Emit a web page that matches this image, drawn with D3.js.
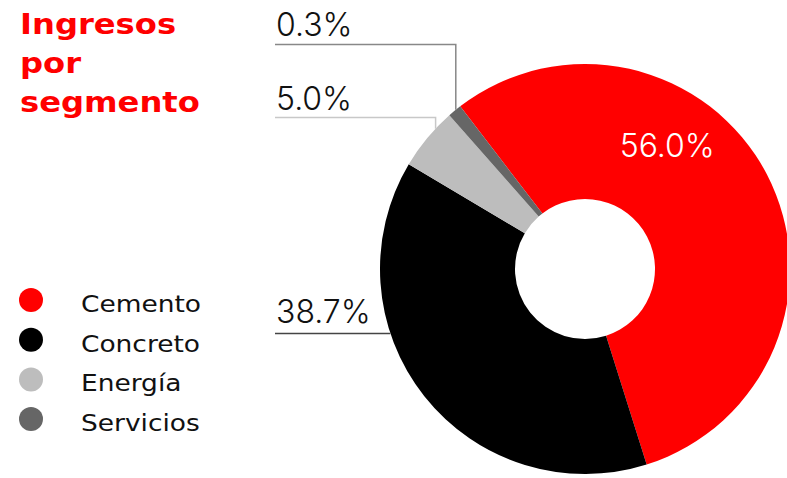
<!DOCTYPE html>
<html>
<head>
<meta charset="utf-8">
<script src="https://cdn.jsdelivr.net/npm/d3@7"></script>
<style>
  body { margin: 0; background: #fff; }
  svg { display: block; }
</style>
</head>
<body>
<div id="chart"></div>
<script>
// data
var segments = ["Cemento", "Concreto", "Energía", "Servicios"];
var shares = [56.0, 38.7, 5.0, 0.3];
var shareLabels = ["56.0%", "38.7%", "5.0%", "0.3%"];
var titleLines = ["Ingresos", "por", "segmento"];

var colors = ["#ff0000", "#000000", "#bdbdbd", "#666666"];
var lineColors = [null, "#444444", "#c8c8c8", "#888888"];

var width = 787, height = 478;
var cx = 585, cy = 269, outerR = 205, innerR = 70;
// tiny slices get a minimum visible share so they stay visible
var minShare = 1.1;

var svg = d3.select("#chart").append("svg")
    .attr("width", width)
    .attr("height", height);

// title
var title = svg.append("text")
    .attr("transform", "translate(20,0) scale(1.15,1)")
    .style("font-family", "'DejaVu Sans', sans-serif")
    .style("font-weight", "bold")
    .style("font-size", "28px")
    .style("fill", "#ff0000");

title.selectAll("tspan")
    .data(titleLines)
    .enter().append("tspan")
    .attr("x", 0)
    .attr("y", (d, i) => 34 + i * 39)
    .text(d => d);

// donut
var startA = -37.5 * Math.PI / 180;
var pie = d3.pie()
    .sort(null)
    .value(d => Math.max(d, minShare))
    .startAngle(startA)
    .endAngle(startA + 2 * Math.PI);

var arcs = pie(shares);

var arc = d3.arc()
    .innerRadius(innerR)
    .outerRadius(outerR);

var g = svg.append("g")
    .attr("transform", "translate(" + cx + "," + cy + ")");

g.selectAll("path.slice")
    .data(arcs)
    .enter().append("path")
    .attr("class", "slice")
    .attr("d", arc)
    .attr("fill", (d, i) => colors[i]);

// labels
var pctFont = "'Inter', 'Open Sans', sans-serif";
var labelX = 276;

// inside label for cemento
var inAngle = 33.5 * Math.PI / 180, inR = 149;
svg.append("text")
    .attr("x", cx + inR * Math.sin(inAngle))
    .attr("y", cy - inR * Math.cos(inAngle) + 12)
    .attr("text-anchor", "middle")
    .style("font-family", pctFont)
    .style("font-weight", 300)
    .style("font-size", "32px")
    .style("fill", "#fff")
    .text(shareLabels[0]);

// outside labels with leader lines: [slice index, text baseline, line y, where on slice]
var outside = [
    [3, 36, 44.5, 0.6],
    [2, 110, 117.5, 0.7],
    [1, 323, 333.5, 0]
];

outside.forEach(function(o){
    var i = o[0], a = arcs[i];
    var pts;
    if (i === 1) {
        // horizontal line to the donut edge
        var dy = o[2] - cy;
        var ex = cx - Math.sqrt(outerR * outerR - dy * dy);
        pts = [[labelX - 1, o[2]], [ex, o[2]]];
    } else {
        var ang = a.startAngle + (a.endAngle - a.startAngle) * o[3];
        var ex = cx + outerR * Math.sin(ang);
        var ey = cy - outerR * Math.cos(ang);
        pts = [[labelX - 1, o[2]], [ex, o[2]], [ex, ey]];
    }
    svg.append("path")
        .attr("d", d3.line()(pts))
        .attr("fill", "none")
        .attr("stroke", lineColors[i])
        .attr("stroke-width", 1.5);

    svg.append("text")
        .attr("x", labelX)
        .attr("y", o[1])
        .style("font-family", pctFont)
        .style("font-weight", 300)
        .style("font-size", "32px")
        .style("fill", "#111")
        .text(shareLabels[i]);
});

// legend
var legend = svg.append("g");
var items = legend.selectAll("g")
    .data(segments)
    .enter().append("g")
    .attr("transform", (d, i) => "translate(0," + (312 + i * 39.7) + ")");

items.append("circle")
    .attr("cx", 31)
    .attr("cy", -12)
    .attr("r", 12)
    .attr("fill", (d, i) => colors[i]);

items.append("text")
    .attr("transform", "translate(81,0) scale(1.15,1)")
    .style("font-family", "'DejaVu Sans', sans-serif")
    .style("font-size", "23px")
    .style("fill", "#111")
    .text(d => d);
</script>
</body>
</html>
